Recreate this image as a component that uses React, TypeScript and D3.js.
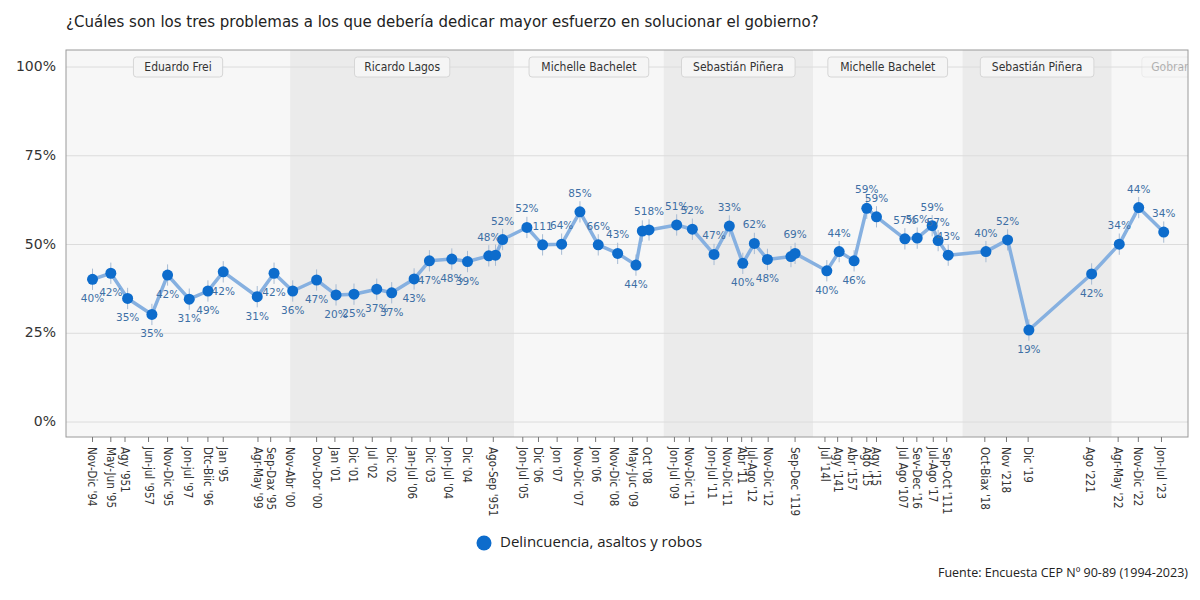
import * as d3 from "d3";

// fechas (año decimal) de cada medición
const fechas = [
  1994.91, 1995.4, 1995.85, 1996.5, 1996.92, 1997.5, 1998.0, 1998.41, 1999.32, 1999.77,
  2000.27, 2000.91, 2001.43, 2001.91, 2002.52, 2002.92, 2003.52, 2003.93, 2004.53, 2004.95,
  2005.52, 2005.7, 2005.89, 2006.54, 2006.96, 2007.47, 2007.96, 2008.45, 2008.97, 2009.46,
  2009.63, 2009.81, 2010.55, 2010.97, 2011.55, 2011.96, 2012.32, 2012.63, 2012.98, 2013.61,
  2013.72, 2014.57, 2014.9, 2015.3, 2015.64, 2015.9, 2016.66, 2016.99, 2017.39, 2017.55,
  2017.82, 2018.83, 2019.41, 2019.98, 2021.66, 2022.4, 2022.92, 2023.59,
];

const valores = [
  40.2, 41.9, 34.8, 30.3, 41.4, 34.6, 36.9, 42.3, 35.3, 41.9,
  36.9, 40.0, 35.8, 36.0, 37.4, 36.4, 40.3, 45.4, 45.9, 45.2,
  46.8, 47.0, 51.4, 54.8, 49.9, 50.1, 59.2, 49.9, 47.5, 44.2,
  53.8, 54.1, 55.5, 54.3, 47.2, 55.2, 44.7, 50.3, 45.8, 46.6,
  47.5, 42.6, 48.0, 45.4, 60.2, 57.8, 51.6, 51.8, 55.3, 51.1,
  47.0, 48.0, 51.3, 25.9, 41.7, 50.1, 60.4, 53.5,
];

const etiquetas = [
  "40%", "42%", "35%", "35%", "42%", "31%", "49%", "42%", "31%", "42%",
  "36%", "47%", "20%", "25%", "37%", "37%", "43%", "47%", "48%", "39%",
  "48%", "", "52%", "52%", "111", "64%", "85%", "66%", "43%", "44%",
  "", "518%", "51%", "52%", "47%", "33%", "40%", "62%", "48%", "",
  "69%", "40%", "44%", "46%", "59%", "59%", "57%", "56%", "59%", "57%",
  "43%", "40%", "52%", "19%", "42%", "34%", "44%", "34%",
];

// 1 = etiqueta debajo del punto
const etiquetaAbajo = [
  1, 1, 1, 1, 1, 1, 1, 1, 1, 1,
  1, 1, 1, 1, 1, 1, 1, 1, 1, 1,
  0, 0, 0, 0, 0, 0, 0, 0, 0, 1,
  0, 0, 0, 0, 0, 0, 1, 0, 1, 0,
  0, 1, 0, 1, 0, 0, 0, 0, 0, 0,
  0, 0, 0, 1, 1, 0, 0, 0,
];

const margenError = 3;

const tickFechas = [
  1994.91, 1995.4, 1995.78, 1996.41, 1996.92, 1997.46, 1998.0, 1998.41, 1999.34, 1999.68,
  2000.2, 2000.91, 2001.4, 2001.89, 2002.4, 2002.9, 2003.46, 2003.95, 2004.44, 2004.93,
  2005.64, 2006.43, 2006.85, 2007.35, 2007.9, 2008.38, 2008.88, 2009.37, 2009.76, 2010.49,
  2010.89, 2011.49, 2011.91, 2012.29, 2012.56, 2013.0, 2013.72, 2014.52, 2014.86, 2015.24,
  2015.64, 2015.9, 2016.62, 2016.98, 2017.42, 2017.78, 2018.8, 2019.38, 2019.96, 2021.61,
  2022.37, 2022.91, 2023.53,
];

const tickEtiquetas = [
  "Nov-Dic '94", "May-Jun '95", "Agy '951", "Jun-jul '957", "Nov-Dic '95", "Jon-jul '97", "Dtc-Biic '96", "Jan '95", "Agr-May '99", "Sep-Dax '95",
  "Nov-Abr '00", "Dov-Dor '00", "Jan '01", "Dic '01", "Jul '02", "Dic '02", "Jan-Jul '06", "Dic '03", "Jon-Jul '04", "Dic '04",
  "Ago-Sep '951", "Jon-Jul '05", "Dic '06", "Jon '07", "Nov-Dic '07", "Jon '06", "Nov-Dic '08", "May-Juc '09", "Oct '08", "Jon-Jul '09",
  "Nov-Dic '11", "Jon-Jul '11", "Nov-Dic '11", "Abr '11", "Jul-Ago '12", "Nov-Dic '12", "Sep-Dec '119", "Jul '14l", "Agy '141", "Abr '157",
  "Ago '15", "Agy '15", "Jul Ago '107", "Sev-Dec '16", "Jul-Ago '17", "Sep-Oct '111", "Oct-Biax '18", "Nov '218", "Dic '19", "Ago '221",
  "Agr-May '22", "Nov-Dic '22", "Jon-Jul '23",
];

const presidentes = ["Eduardo Frei", "Ricardo Lagos", "Michelle Bachelet", "Sebastián Piñera", "Michelle Bachelet", "Sebastián Piñera", "Gobran Boric"];
const inicioMandato = [1994.2, 2000.2, 2006.2, 2010.2, 2014.2, 2018.2, 2022.2];
const finMandato = [2000.2, 2006.2, 2010.2, 2014.2, 2018.2, 2022.2, 2026.2];

const yTicks = [0, 25, 50, 75, 100];

export default function App() {
  const width = 1200;
  const height = 600;
  const left = 66;
  const right = 1188;
  const top = 50;
  const bottom = 437;

  const x = d3.scaleLinear().domain([1994.2, 2024.24]).range([left, right]);
  const y = d3.scaleLinear().domain([0, 100]).range([422, 67]);

  const puntos = fechas.map((f, i) => ({ f, v: valores[i], lab: etiquetas[i], abajo: etiquetaAbajo[i] === 1 }));

  const linea = d3.line<{ f: number; v: number }>()
    .x((d) => x(d.f))
    .y((d) => y(d.v));

  return (
    <svg width={width} height={height} style={{ position: "absolute", left: 0, top: 0, background: "#fff" }}>
      <defs>
        <clipPath id="marco">
          <rect x={left} y={top} width={right - left} height={bottom - top} />
        </clipPath>
      </defs>

      <text x={66} y={22} dominantBaseline="middle" fontFamily="DejaVu Sans" fontSize={15} fill="#222">
        ¿Cuáles son los tres problemas a los que debería dedicar mayor esfuerzo en solucionar el gobierno?
      </text>

      {/* franjas de gobierno */}
      <g clipPath="url(#marco)">
        {presidentes.map((p, i) => (
          <rect
            key={i}
            x={x(inicioMandato[i])}
            y={top}
            width={x(finMandato[i]) - x(inicioMandato[i])}
            height={bottom - top}
            fill={i % 2 === 0 ? "#f7f7f7" : "#ebebeb"}
          />
        ))}
      </g>

      {/* grilla */}
      {yTicks.map((t) => (
        <g key={t}>
          <line x1={left} x2={right} y1={y(t)} y2={y(t)} stroke="#dcdcdc" strokeWidth={1} />
          <text x={56} y={y(t)} textAnchor="end" dominantBaseline="middle" fontFamily="DejaVu Sans" fontSize={14} fill="#333">
            {t}%
          </text>
        </g>
      ))}

      {/* etiquetas de presidentes */}
      <g clipPath="url(#marco)">
        {presidentes.map((p, i) => {
          const cx = x((inicioMandato[i] + finMandato[i]) / 2);
          const w = p.length * 6.1 + 16;
          const faded = i === presidentes.length - 1;
          return (
            <g key={i} opacity={faded ? 0.35 : 1}>
              <rect x={cx - w / 2} y={y(100) - 10} width={w} height={20} rx={3} fill="#f5f5f5" stroke="#d6d6d6" />
              <text x={cx} y={y(100)} textAnchor="middle" dominantBaseline="middle" fontFamily="DejaVu Sans Condensed" fontSize={12} fill="#333">
                {p}
              </text>
            </g>
          );
        })}
      </g>

      <rect x={left} y={top} width={right - left} height={bottom - top} fill="none" stroke="#9a9a9a" strokeWidth={1} />

      {/* eje x */}
      {tickFechas.map((f, i) => (
        <g key={i} transform={`translate(${x(f)},${bottom})`}>
          <line y1={0} y2={5} stroke="#777" />
          <text
            transform="translate(0,10) rotate(90)"
            dy="0.35em"
            textAnchor="start"
            fontFamily="DejaVu Sans Condensed"
            fontSize={11.5}
            fill="#333"
          >
            {tickEtiquetas[i]}
          </text>
        </g>
      ))}

      {/* barras de error */}
      {puntos.map((d, i) => (
        <line
          key={i}
          x1={x(d.f)}
          x2={x(d.f)}
          y1={y(d.v - margenError)}
          y2={y(d.v + margenError)}
          stroke="#a7bbd3"
          strokeWidth={1}
        />
      ))}

      <path d={linea(puntos) ?? ""} fill="none" stroke="#86b0e0" strokeWidth={3.5} strokeLinejoin="round" />

      {puntos.map((d, i) => (
        <circle key={i} cx={x(d.f)} cy={y(d.v)} r={5.5} fill="#0d6ccc" />
      ))}

      {puntos.map((d, i) => (
        <text
          key={i}
          x={x(d.f)}
          y={y(d.v) + (d.abajo ? 20 : -18)}
          textAnchor="middle"
          dominantBaseline="middle"
          fontFamily="DejaVu Sans"
          fontSize={10.5}
          fill="#3d6fa5"
        >
          {d.lab}
        </text>
      ))}

      {/* leyenda */}
      <circle cx={484} cy={543} r={7.5} fill="#0d6ccc" />
      <text x={500} y={543} dominantBaseline="middle" fontFamily="Open Sans" fontSize={15} fill="#222">
        Delincuencia, asaltos y robos
      </text>

      <text x={right} y={574} textAnchor="end" dominantBaseline="middle" fontFamily="Open Sans" fontSize={12.5} fill="#222">
        Fuente: Encuesta CEP Nº 90-89 (1994-2023)
      </text>
    </svg>
  );
}
